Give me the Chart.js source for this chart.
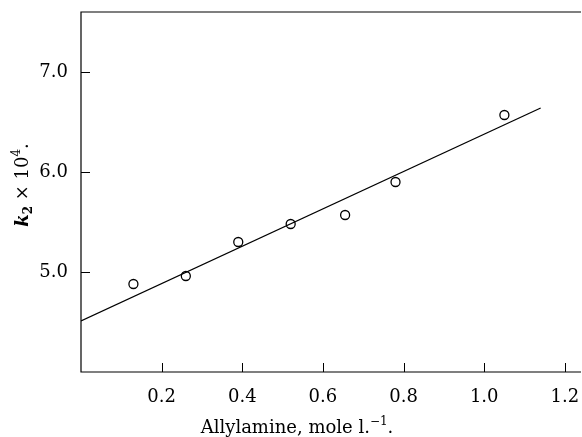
<!DOCTYPE html>
<html>
<head>
<meta charset="utf-8">
<script src="https://cdn.jsdelivr.net/npm/chart.js@4.4.1/dist/chart.umd.min.js"></script>
<style>
  html, body { margin: 0; padding: 0; background: #fff; }
  #wrap { width: 582px; height: 437px; }
</style>
</head>
<body>
<div id="wrap"><canvas id="c" width="582" height="437"></canvas></div>
<script>
/* ── Data ───────────────────────────────────────────────── */
const allylamine = [0.13, 0.26, 0.39, 0.52, 0.655, 0.78, 1.05];
const k2 = [4.88, 4.96, 5.30, 5.48, 5.57, 5.90, 6.57];
const fitX = [0, 1.14];
const fitY = [4.51, 6.64];
const xTicks = [0.2, 0.4, 0.6, 0.8, 1.0, 1.2];
const yTicks = [5.0, 6.0, 7.0];

const FONT = '"DejaVu Serif", "Liberation Serif", serif';
const INK = '#000';

/* frame (left, top, bottom) + inward tick marks + axis titles */
const framePlugin = {
    id: 'frame',
    afterDraw(chart) {
        const { ctx, chartArea: a, scales } = chart;
        ctx.save();
        ctx.strokeStyle = INK;
        ctx.lineWidth = 1.2;
        ctx.beginPath();
        ctx.moveTo(a.right, a.top);
        ctx.lineTo(a.left, a.top);
        ctx.lineTo(a.left, a.bottom);
        ctx.lineTo(a.right, a.bottom);
        ctx.stroke();

        ctx.lineWidth = 1;
        ctx.beginPath();
        yTicks.forEach(v => {
            const y = Math.round(scales.y.getPixelForValue(v)) + 0.5;
            ctx.moveTo(a.left, y);
            ctx.lineTo(a.left + 9, y);
        });
        xTicks.forEach(v => {
            const x = Math.round(scales.x.getPixelForValue(v)) + 0.5;
            ctx.moveTo(x, a.bottom);
            ctx.lineTo(x, a.bottom - 9);
        });
        ctx.stroke();

        // x title: Allylamine, mole l.⁻¹.
        ctx.fillStyle = INK;
        ctx.textBaseline = 'alphabetic';
        ctx.textAlign = 'left';
        const base = 433;
        const parts = [
            { t: 'Allylamine, mole l.', f: '18px ' + FONT, dy: 0 },
            { t: '\u22121', f: '12px ' + FONT, dy: -8 },
            { t: '.', f: '18px ' + FONT, dy: 0 },
        ];
        let w = 0;
        parts.forEach(p => { ctx.font = p.f; w += ctx.measureText(p.t).width; });
        let x = 297 - w / 2;
        parts.forEach(p => {
            ctx.font = p.f;
            ctx.fillText(p.t, x, base + p.dy);
            x += ctx.measureText(p.t).width;
        });

        // y title: k₂ × 10⁴.
        ctx.translate(28, 185);
        ctx.rotate(-Math.PI / 2);
        const yparts = [
            { t: 'k', f: 'bold italic 18px ' + FONT, dy: 0 },
            { t: '2', f: 'bold 12px ' + FONT, dy: 4 },
            { t: ' \u00d7 10', f: '18px ' + FONT, dy: 0 },
            { t: '4', f: '12px ' + FONT, dy: -8 },
            { t: '.', f: '18px ' + FONT, dy: 0 },
        ];
        w = 0;
        yparts.forEach(p => { ctx.font = p.f; w += ctx.measureText(p.t).width; });
        x = -w / 2;
        yparts.forEach(p => {
            ctx.font = p.f;
            ctx.fillText(p.t, x, p.dy);
            x += ctx.measureText(p.t).width;
        });
        ctx.restore();
    },
};

new Chart(document.getElementById('c'), {
    type: 'scatter',
    data: {
        datasets: [
            {
                label: 'fit',
                type: 'line',
                data: fitX.map((v, i) => ({ x: v, y: fitY[i] })),
                borderColor: INK,
                borderWidth: 1.3,
                pointRadius: 0,
                fill: false,
            },
            {
                label: 'k2',
                data: allylamine.map((v, i) => ({ x: v, y: k2[i] })),
                pointStyle: 'circle',
                pointRadius: 4.5,
                pointBackgroundColor: '#fff',
                pointBorderColor: INK,
                pointBorderWidth: 1.3,
            },
        ],
    },
    options: {
        responsive: false,
        animation: false,
        devicePixelRatio: 1,
        layout: { autoPadding: false, padding: { top: 12, right: 1, left: 0, bottom: 0 } },
        plugins: {
            legend: { display: false },
            tooltip: { enabled: false },
        },
        scales: {
            x: {
                type: 'linear',
                min: 0,
                max: 1.24,
                afterBuildTicks: s => { s.ticks = xTicks.map(v => ({ value: v })); },
                afterFit: s => { s.height = 65; s.paddingLeft = 0; s.paddingRight = 0; },
                grid: { display: false },
                border: { display: false },
                ticks: {
                    color: INK,
                    font: { family: FONT, size: 18 },
                    padding: 7,
                    maxRotation: 0,
                    callback: v => v.toFixed(1),
                },
            },
            y: {
                type: 'linear',
                min: 4.0,
                max: 7.6,
                afterBuildTicks: s => { s.ticks = yTicks.map(v => ({ value: v })); },
                afterFit: s => { s.width = 81; s.paddingTop = 0; s.paddingBottom = 0; },
                grid: { display: false },
                border: { display: false },
                ticks: {
                    color: INK,
                    font: { family: FONT, size: 18 },
                    padding: 5,
                    callback: v => v.toFixed(1),
                },
            },
        },
    },
    plugins: [framePlugin],
});
</script>
</body>
</html>
